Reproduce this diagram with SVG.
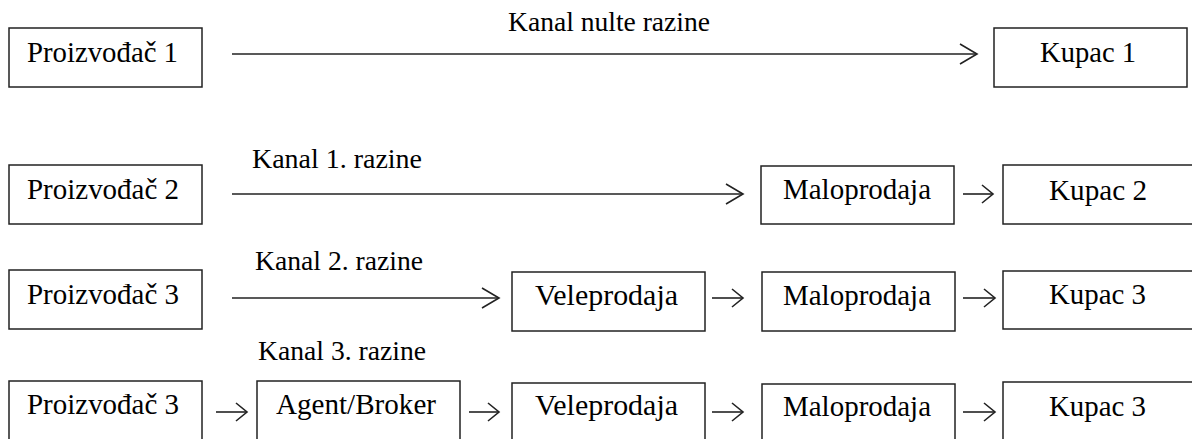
<svg xmlns="http://www.w3.org/2000/svg" width="1192" height="439" viewBox="0 0 1192 439">
<style>
.box{fill:#fff;stroke:#222;stroke-width:1.5}
.t{font-size:29px;fill:#000}
.lbl{font-size:27.6px;fill:#000}
.ln{stroke:#222;stroke-width:1.6;fill:none}
.lng{marker-end:url(#headL)}
.sht{marker-end:url(#headS)}
</style>
<defs>
<marker id="headL" markerUnits="userSpaceOnUse" markerWidth="22" markerHeight="24" refX="18" refY="11" orient="auto">
<path d="M1,1 L18,11 L1,21" fill="none" stroke="#222" stroke-width="1.6"/>
</marker>
<marker id="headS" markerUnits="userSpaceOnUse" markerWidth="16" markerHeight="22" refX="12" refY="10" orient="auto">
<path d="M1,1 L12,10 L1,19" fill="none" stroke="#222" stroke-width="1.6"/>
</marker>
</defs>
<rect width="1192" height="439" fill="#fff"/>

<g font-family="'Liberation Serif', 'Times New Roman', Times, 'DejaVu Serif', serif">
<g id="labels">
<text class="lbl" x="508" y="31" textLength="202" lengthAdjust="spacingAndGlyphs">Kanal nulte razine</text>
<text class="lbl" x="252" y="168" textLength="170" lengthAdjust="spacingAndGlyphs">Kanal 1. razine</text>
<text class="lbl" x="255" y="270" textLength="168" lengthAdjust="spacingAndGlyphs">Kanal 2. razine</text>
<text class="lbl" x="258" y="360" textLength="168" lengthAdjust="spacingAndGlyphs">Kanal 3. razine</text>
</g>

<g id="connectors">
<line class="ln lng" x1="232" y1="54" x2="977" y2="54"/>
<line class="ln lng" x1="232" y1="194" x2="743" y2="194"/>
<line class="ln sht" x1="963" y1="194" x2="993" y2="194"/>
<line class="ln lng" x1="232" y1="298" x2="499" y2="298"/>
<line class="ln sht" x1="712" y1="298" x2="743" y2="298"/>
<line class="ln sht" x1="963" y1="298" x2="995" y2="298"/>
<line class="ln sht" x1="216" y1="412" x2="247" y2="412"/>
<line class="ln sht" x1="469" y1="412" x2="499" y2="412"/>
<line class="ln sht" x1="712" y1="412" x2="743" y2="412"/>
<line class="ln sht" x1="963" y1="412" x2="995" y2="412"/>
</g>

<g id="n-proizvodac1"><rect class="box" x="9" y="28" width="193" height="59"/><text class="t" x="27" y="62" textLength="151" lengthAdjust="spacingAndGlyphs">Proizvođač 1</text></g>
<g id="n-kupac1"><rect class="box" x="994" y="28" width="193" height="59"/><text class="t" x="1040" y="62" textLength="96" lengthAdjust="spacingAndGlyphs">Kupac 1</text></g>

<g id="n-proizvodac2"><rect class="box" x="9" y="165" width="193" height="59"/><text class="t" x="27" y="199" textLength="152" lengthAdjust="spacingAndGlyphs">Proizvođač 2</text></g>
<g id="n-maloprodaja2"><rect class="box" x="761" y="166" width="193" height="58"/><text class="t" x="783" y="199" textLength="148" lengthAdjust="spacingAndGlyphs">Maloprodaja</text></g>
<g id="n-kupac2"><rect class="box" x="1003" y="165" width="200" height="59"/><text class="t" x="1049" y="200" textLength="98" lengthAdjust="spacingAndGlyphs">Kupac 2</text></g>

<g id="n-proizvodac3a"><rect class="box" x="9" y="270" width="193" height="59"/><text class="t" x="27" y="304" textLength="152" lengthAdjust="spacingAndGlyphs">Proizvođač 3</text></g>
<g id="n-veleprodaja3"><rect class="box" x="512" y="272" width="193" height="59"/><text class="t" x="535" y="305" textLength="143" lengthAdjust="spacingAndGlyphs">Veleprodaja</text></g>
<g id="n-maloprodaja3"><rect class="box" x="762" y="272" width="193" height="59"/><text class="t" x="783" y="305" textLength="148" lengthAdjust="spacingAndGlyphs">Maloprodaja</text></g>
<g id="n-kupac3a"><rect class="box" x="1003" y="271" width="200" height="58"/><text class="t" x="1049" y="304" textLength="97" lengthAdjust="spacingAndGlyphs">Kupac 3</text></g>

<g id="n-proizvodac3b"><rect class="box" x="9" y="381" width="193" height="65"/><text class="t" x="27" y="414" textLength="152" lengthAdjust="spacingAndGlyphs">Proizvođač 3</text></g>
<g id="n-agent"><rect class="box" x="257" y="381" width="203" height="65"/><text class="t" x="276" y="414" textLength="160" lengthAdjust="spacingAndGlyphs">Agent/Broker</text></g>
<g id="n-veleprodaja4"><rect class="box" x="512" y="383" width="193" height="63"/><text class="t" x="535" y="415" textLength="143" lengthAdjust="spacingAndGlyphs">Veleprodaja</text></g>
<g id="n-maloprodaja4"><rect class="box" x="762" y="384" width="193" height="62"/><text class="t" x="783" y="416" textLength="148" lengthAdjust="spacingAndGlyphs">Maloprodaja</text></g>
<g id="n-kupac3b"><rect class="box" x="1003" y="382" width="200" height="64"/><text class="t" x="1049" y="416" textLength="97" lengthAdjust="spacingAndGlyphs">Kupac 3</text></g>
</g>
</svg>
